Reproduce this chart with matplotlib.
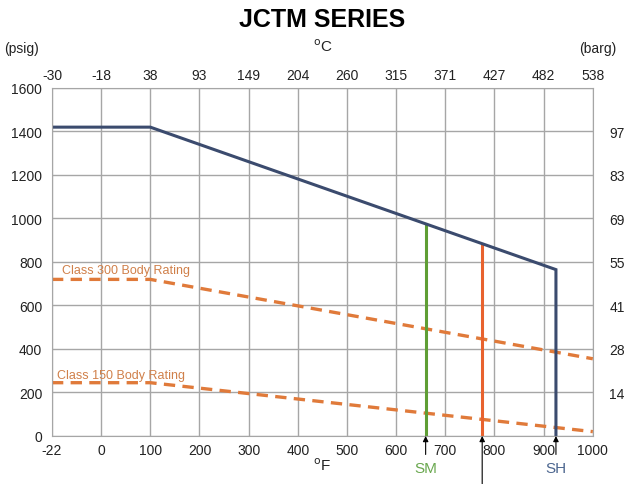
import matplotlib.pyplot as plt

plt.rcParams['font.family'] = ['Liberation Sans Narrow', 'Liberation Sans', 'DejaVu Sans']

# tick labels
f_labels = ['-22', '0', '100', '200', '300', '400', '500', '600', '700', '800', '900', '1000']
c_labels = ['-30', '-18', '38', '93', '149', '204', '260', '315', '371', '427', '482', '538']
psig_ticks = [0, 200, 400, 600, 800, 1000, 1200, 1400, 1600]
barg_ticks = [200, 400, 600, 800, 1000, 1200, 1400]
barg_labels = ['14', '28', '41', '55', '69', '83', '97']

# curves (deg F, psig)
body_f = [-22, 100, 925, 925]
body_p = [1420, 1420, 765, 0]
c300_f = [-22, 100, 1000]
c300_p = [720, 720, 355]
c150_f = [-22, 100, 1000]
c150_p = [245, 245, 20]
sm_f, sm_p = 660, 975
mid_f, mid_p = 775, 882


def fpos(f):
    # axis spacing is even per label, -22..0 gets one slot
    if f < 0:
        return (f + 22) / 22.0
    return f / 100.0 + 1


def fposl(vals):
    return [fpos(v) for v in vals]


fig = plt.figure(figsize=(6.26, 4.85), dpi=100)
ax = fig.add_axes([0.083, 0.099, 0.864, 0.7175])

grid_c = '#a6a6a6'
ax.set_xlim(0, 11)
ax.set_ylim(0, 1600)
ax.set_xticks(range(12))
ax.set_xticklabels(f_labels, fontsize=10)
ax.set_yticks(psig_ticks)
ax.set_yticklabels([str(t) for t in psig_ticks], fontsize=10)
ax.tick_params(axis='x', length=0, pad=5, colors='#222222')
ax.tick_params(axis='y', length=0, pad=7, colors='#222222')
ax.grid(True, color=grid_c, lw=1)
for s in ax.spines.values():
    s.set_color(grid_c)

top = ax.twiny()
top.set_xlim(0, 11)
top.set_xticks(range(12))
top.set_xticklabels(c_labels, fontsize=10)
top.tick_params(length=0, pad=4, colors='#222222')

right = ax.twinx()
right.set_ylim(0, 1600)
right.set_yticks(barg_ticks)
right.set_yticklabels(barg_labels, fontsize=10)
right.tick_params(length=0, pad=12, colors='#222222')
for a in (top, right):
    for s in a.spines.values():
        s.set_visible(False)

dash_c = '#e07a3a'
ax.plot(fposl(c300_f), c300_p, color=dash_c, lw=2.4, ls=(0, (3.4, 2.2)))
ax.plot(fposl(c150_f), c150_p, color=dash_c, lw=2.4, ls=(0, (3.4, 2.2)))
ax.plot([fpos(sm_f)] * 2, [0, sm_p], color='#5f9e35', lw=2.2)
ax.plot([fpos(mid_f)] * 2, [0, mid_p], color='#e8622e', lw=2.2)
ax.plot(fposl(body_f), body_p, color='#3b4b6e', lw=2.2, solid_joinstyle='miter')

ax.text(0.2, 750, 'Class 300 Body Rating', color='#d0804a', fontsize=9)
ax.text(0.1, 268, 'Class 150 Body Rating', color='#d0804a', fontsize=9)

# arrows under the axis
arw = dict(arrowstyle='-|>', color='black', lw=0.8, mutation_scale=8, shrinkA=0, shrinkB=0)
ax.annotate('', xy=(fpos(sm_f), 0), xytext=(fpos(sm_f), -85), arrowprops=arw, annotation_clip=False)
ax.annotate('', xy=(fpos(mid_f), 0), xytext=(fpos(mid_f), -220), arrowprops=arw, annotation_clip=False)
ax.annotate('', xy=(fpos(925), 0), xytext=(fpos(925), -85), arrowprops=arw, annotation_clip=False)
ax.text(fpos(sm_f), -145, 'SM', color='#6aa84f', fontsize=11, ha='center', va='center')
ax.text(fpos(925), -145, 'SH', color='#4d6790', fontsize=11, ha='center', va='center')

fig.text(0.515, 0.04, '$^{\\mathrm{o}}$F', fontsize=11, ha='center', va='center', color='#222222')
fig.text(0.515, 0.903, '$^{\\mathrm{o}}$C', fontsize=11, ha='center', va='center', color='#222222')
fig.text(0.035, 0.9, '(psig)', fontsize=10, ha='center', va='center', color='#222222')
fig.text(0.955, 0.9, '(barg)', fontsize=10, ha='center', va='center', color='#222222')
fig.text(0.515, 0.958, 'JCTM SERIES', fontsize=18, fontweight='bold', ha='center', va='center',
         family=['Liberation Sans', 'DejaVu Sans'])

plt.savefig('out.png', dpi=100)
